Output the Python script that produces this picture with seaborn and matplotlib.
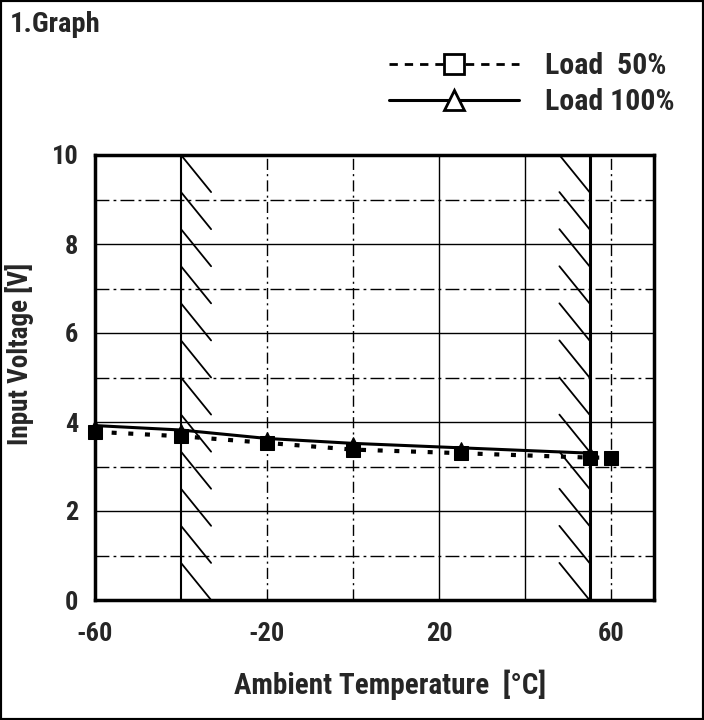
import numpy as np
import pandas as pd
import matplotlib
matplotlib.use('Agg')
import matplotlib.pyplot as plt
import seaborn as sns
from matplotlib.lines import Line2D
from matplotlib.patches import Rectangle
from matplotlib import font_manager

# ---------------- data ----------------
temp_50 = [-60, -40, -20, 0, 25, 55, 60]
volt_50 = [3.78, 3.68, 3.53, 3.38, 3.30, 3.20, 3.20]
temp_100 = [-60, -40, -20, 0, 25, 55]
volt_100 = [3.92, 3.82, 3.63, 3.52, 3.42, 3.30]
series_labels = ['Load  50%', 'Load 100%']
x_ticks = [-60, -20, 20, 60]
y_ticks = [0, 2, 4, 6, 8, 10]
solid_vgrid = [20, 40]
dashdot_vgrid = [-20, 0, 60]
solid_hgrid = [2, 4, 6, 8]
dashdot_hgrid = [1, 3, 5, 7, 9]
limit_low = -40
limit_high = 55

sns.set_style('white')
names = {f.name for f in font_manager.fontManager.ttflist}
narrow = 'Roboto Condensed' in names
fam = ['Roboto Condensed', 'Liberation Sans', 'DejaVu Sans'] if narrow else ['Liberation Sans', 'DejaVu Sans']
plt.rcParams['font.family'] = fam
plt.rcParams['font.weight'] = 'bold'
k = 1.0 if narrow else 0.85

fig = plt.figure(figsize=(7.04, 7.2), dpi=100)
ax = fig.add_axes([95 / 704, 1 - 600 / 720, 559 / 704, 445 / 720])
ax.set_xlim(-60, 70)
ax.set_ylim(0, 10)

# grid
for v in solid_vgrid:
    ax.axvline(v, color='black', lw=1.0, zorder=1)
for v in dashdot_vgrid:
    ax.axvline(v, color='black', lw=1.0, linestyle=(0, (8, 3, 1.5, 3)), zorder=1)
for h in solid_hgrid:
    ax.axhline(h, color='black', lw=1.0, zorder=1)
for h in dashdot_hgrid:
    ax.axhline(h, color='black', lw=1.0, linestyle=(0, (10, 3, 2, 3)), zorder=1)
ax.axvline(limit_low, color='black', lw=1.5, zorder=2)
ax.axvline(limit_high, color='black', lw=2.2, zorder=2)

# hatch strokes marking the operating limits
n_h = 12
step = 10 / n_h
for i in range(n_h):
    yt = 10 - i * step
    ax.plot([limit_low, limit_low + 7], [yt, yt - step], color='black', lw=1.3, zorder=2)
    ax.plot([limit_high - 7, limit_high], [yt, yt - step], color='black', lw=1.3, zorder=2)

df50 = pd.DataFrame({'temp': temp_50, 'volt': volt_50})
df100 = pd.DataFrame({'temp': temp_100, 'volt': volt_100})

sns.lineplot(data=df100, x='temp', y='volt', ax=ax, color='black', lw=2.2,
             marker='^', markersize=9, markerfacecolor='black', markeredgecolor='black',
             legend=False, zorder=4, clip_on=False)
sns.lineplot(data=df50, x='temp', y='volt', ax=ax, color='black', lw=3.0,
             linestyle=(0, (1.2, 2.8)), marker='s', markersize=10,
             markerfacecolor='black', markeredgecolor='black',
             legend=False, zorder=5, clip_on=False)

# axes styling
for s in ax.spines.values():
    s.set_visible(True)
    s.set_color('black')
    s.set_linewidth(2.5)
ax.set_xticks(x_ticks)
ax.set_yticks(y_ticks)
ax.set_xticklabels([str(t) for t in x_ticks], fontsize=19 * k, fontweight='bold')
ax.set_yticklabels([str(t) for t in y_ticks], fontsize=19 * k, fontweight='bold')
ax.tick_params(axis='x', length=0, pad=16)
ax.tick_params(axis='y', length=0, pad=12)

ax.set_xlabel('Ambient Temperature  [°C]', fontsize=21 * k, fontweight='bold', va='center')
ax.xaxis.set_label_coords((390 - 95) / 559, (600 - 685) / 445)
ax.set_ylabel('Input Voltage [V]', fontsize=19.5 * k, fontweight='bold', va='center')
ax.yaxis.set_label_coords((20 - 95) / 559, (600 - 354) / 445)

# legend
h50 = Line2D([], [], color='black', lw=2.0, linestyle=(0, (3.0, 2.5)), marker='s',
             markersize=14, markerfacecolor='white', markeredgecolor='black', markeredgewidth=2)
h100 = Line2D([], [], color='black', lw=2.2, marker='^',
              markersize=14, markerfacecolor='white', markeredgecolor='black', markeredgewidth=2)
lsize = 21.5 * k
lpx = lsize * 100 / 72
ax.legend([h50, h100], series_labels, loc='upper left',
          bbox_to_anchor=(389 / 704, 1 - 52 / 720), bbox_transform=fig.transFigure,
          frameon=False, prop={'size': lsize, 'weight': 'bold'},
          handlelength=130 / lpx, handletextpad=26 / lpx,
          borderpad=0, borderaxespad=0, labelspacing=0.28)

fig.text(10 / 704, 1 - 24 / 720, '1.Graph', fontsize=20.5 * k, fontweight='bold',
         va='center', ha='left')

fig.patches.append(Rectangle((0, 0), 1, 1, transform=fig.transFigure, fill=False,
                             edgecolor='black', lw=3, zorder=10))

fig.savefig('out.png', dpi=100)
